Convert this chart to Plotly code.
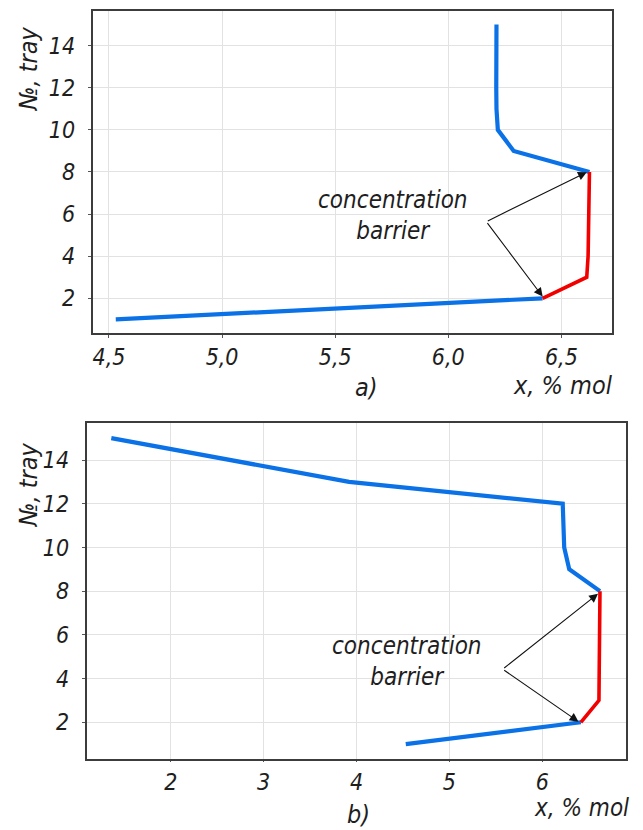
import plotly.graph_objects as go

# ---------------- data ----------------
trays = [1, 2, 3, 4, 5, 6, 7, 8, 9, 10, 11, 12, 13, 14, 15]

# panel a)
x_a = [4.53, 6.417, 6.612, 6.618, 6.620, 6.622, 6.623, 6.624, 6.289, 6.219, 6.213, 6.212, 6.212, 6.212, 6.213]
# panel b)
x_b = [4.53, 6.415, 6.610, 6.612, 6.615, 6.618, 6.620, 6.621, 6.290, 6.236, 6.225, 6.220, 3.920, 2.650, 1.360]

# barrier section: trays 2..8 (indices 1..7)
BAR_LO, BAR_HI = 1, 7

xticks_a = [4.5, 5.0, 5.5, 6.0, 6.5]
xtext_a = ["4,5", "5,0", "5,5", "6,0", "6,5"]
xticks_b = [2, 3, 4, 5, 6]
xtext_b = ["2", "3", "4", "5", "6"]
yticks = [2, 4, 6, 8, 10, 12, 14]
ytext = ["2", "4", "6", "8", "10", "12", "14"]

# ---------------- style ----------------
W, H = 643, 830
BLUE = "#0a72e6"
RED = "#f20000"
FONT = "Liberation Sans Narrow, DejaVu Sans Condensed, Roboto, sans-serif"
TXT = "#1e1e1e"

def px_x(p):
    return p / W

def px_y(p):
    return 1 - p / H

fig = go.Figure()

def add_panel(xs, xa, ya):
    lo = slice(0, BAR_LO + 1)
    mid = slice(BAR_LO, BAR_HI + 1)
    hi = slice(BAR_HI, len(trays))
    for sl, col, w in [(lo, BLUE, 4.2), (hi, BLUE, 4.2), (mid, RED, 3.6)]:
        fig.add_trace(go.Scatter(
            x=xs[sl], y=trays[sl], mode="lines",
            line=dict(color=col, width=w),
            xaxis=xa, yaxis=ya, showlegend=False, hoverinfo="skip"))

add_panel(x_a, "x", "y")
add_panel(x_b, "x2", "y2")

tickfont = dict(family=FONT, size=23, color=TXT, style="italic")
axis_common = dict(
    showline=True, mirror=True, linecolor="#3c3c3c", linewidth=2,
    showgrid=True, gridcolor="#e2e2e2", gridwidth=1,
    zeroline=False, ticks="outside", ticklen=3, tickcolor="#555",
    tickfont=tickfont,
)

fig.update_layout(
    width=W, height=H,
    margin=dict(l=0, r=0, t=0, b=0),
    paper_bgcolor="white", plot_bgcolor="white",
    xaxis=dict(axis_common, domain=[px_x(92.7), px_x(612.3)], range=[4.428, 6.725],
               tickvals=xticks_a, ticktext=xtext_a, anchor="y", ticklabelstandoff=0),
    yaxis=dict(axis_common, domain=[px_y(332.7), px_y(10.7)], range=[0.366, 15.66],
               tickvals=yticks, ticktext=ytext, anchor="x", ticklabelstandoff=8),
    xaxis2=dict(axis_common, domain=[px_x(86.7), px_x(625.7)], range=[1.095, 6.898],
                tickvals=xticks_b, ticktext=xtext_b, anchor="y2", ticklabelstandoff=0,
                ticklen=1),
    yaxis2=dict(axis_common, domain=[px_y(759), px_y(423.3)], range=[0.32, 15.68],
                tickvals=yticks, ticktext=ytext, anchor="x2", ticklabelstandoff=8),
)

tfont = dict(family=FONT, size=25, color=TXT, style="italic")
ann = []

def label(x, y, text, xanchor="center", angle=0, size=25):
    ann.append(dict(xref="paper", yref="paper", x=px_x(x), y=px_y(y), text=text,
                    showarrow=False, xanchor=xanchor, yanchor="middle",
                    font=dict(tfont, size=size), textangle=angle))

# axis titles and panel letters
label(28, 69, "№, tray", angle=-90)
label(28, 485, "№, tray", angle=-90)
label(615, 386, "x, % mol", xanchor="right")
label(631, 808, "x, % mol", xanchor="right", size=24)
label(366, 387, "a)")
label(358, 814, "b)")

# annotation text
def note(xa, ya, x, y):
    ann.append(dict(xref=xa, yref=ya, x=x, y=y, text="concentration<br>barrier",
                    showarrow=False, xanchor="center", yanchor="middle",
                    font=dict(tfont, size=24), align="center"))

note("x", "y", 5.757, 5.91)
note("x2", "y2", 4.544, 4.8)

def arrow(xa, ya, tail, head):
    ann.append(dict(xref=xa, yref=ya, axref=xa, ayref=ya,
                    x=head[0], y=head[1], ax=tail[0], ay=tail[1], text="",
                    showarrow=True, arrowhead=2, arrowsize=1.6, arrowwidth=1.1,
                    arrowcolor="#111"))

arrow("x", "y", (6.168, 5.64), (6.612, 7.99))
arrow("x", "y", (6.168, 5.64), (6.417, 2.08))
arrow("x2", "y2", (5.574, 4.43), (6.60, 7.88))
arrow("x2", "y2", (5.574, 4.43), (6.39, 2.03))

fig.update_layout(annotations=ann)

fig.write_html("out.html")
